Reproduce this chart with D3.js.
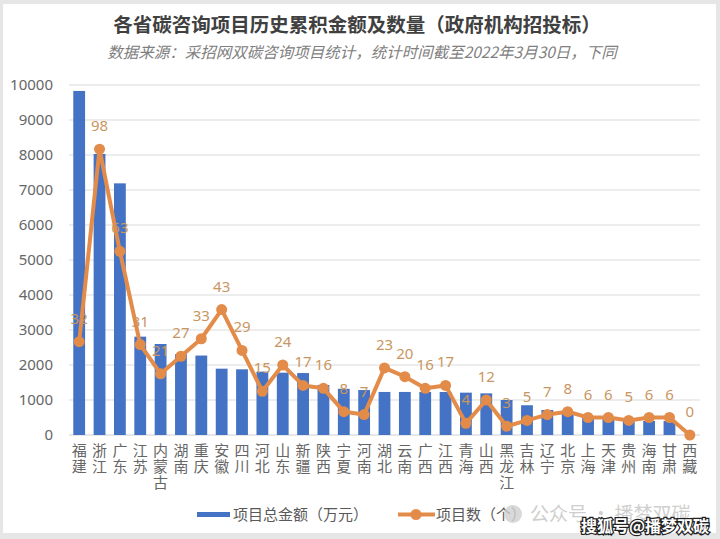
<!DOCTYPE html>
<html><head><meta charset="utf-8">
<script src="https://cdn.jsdelivr.net/npm/d3@7"></script>
<style>
body{margin:0;background:#fff;}
svg{display:block;font-family:"Noto Sans CJK SC","Noto Sans",sans-serif;}
.vt{writing-mode:vertical-rl;text-orientation:upright;}
</style></head>
<body>
<svg id="c" width="720" height="539"></svg>
<script>
const categories = ["福建","浙江","广东","江苏","内蒙古","湖南","重庆","安徽","四川","河北","山东","新疆","陕西","宁夏","河南","湖北","云南","广西","江西","青海","山西","黑龙江","吉林","辽宁","北京","上海","天津","贵州","海南","甘肃","西藏"];
const amounts = [9830,8030,7190,2810,2600,2310,2270,1895,1877,1810,1780,1770,1430,1320,1285,1230,1230,1230,1230,1210,1190,1000,850,715,680,520,500,430,400,400,0];
const counts = [32,98,63,31,21,27,33,43,29,15,24,17,16,8,7,23,20,16,17,4,12,3,5,7,8,6,6,5,6,6,0];
const yTicks = [0,1000,2000,3000,4000,5000,6000,7000,8000,9000,10000];
const title = "各省碳咨询项目历史累积金额及数量（政府机构招投标）";
const subtitle = "数据来源：采招网双碳咨询项目统计，统计时间截至2022年3月30日，下同";
const legendBar = "项目总金额（万元）";
const legendLine = "项目数（个）";

const svg = d3.select("#c");
// frame
svg.append("rect").attr("x",0).attr("y",0).attr("width",720).attr("height",539).attr("fill","#e6e6e6");
svg.append("rect").attr("x",3).attr("y",4).attr("width",713).attr("height",529).attr("fill","#fff");

const x = d3.scaleBand().domain(categories).range([69,700]).paddingInner(0.42).paddingOuter(0.21);
const y = d3.scaleLinear().domain([0,10000]).range([435,85]);
const y2 = d3.scaleLinear().domain([0,120]).range([435,85]);

// grid
svg.append("g").selectAll("line").data(yTicks).join("line")
  .attr("x1",69).attr("x2",700).attr("y1",d=>y(d)).attr("y2",d=>y(d))
  .attr("stroke",d=>d===0?"#cfcfcf":"#dcdcdc").attr("stroke-width",1.2);

// y axis
const yAxis = d3.axisLeft(y).tickValues(yTicks).tickFormat(d3.format("d")).tickSize(0).tickPadding(0);
const ga = svg.append("g").attr("transform","translate(53,0)").call(yAxis);
ga.select(".domain").remove();
ga.selectAll("text").attr("fill","#666").style("font-size","15px").style("font-family","'Noto Sans',sans-serif");

// bars
svg.append("g").selectAll("rect").data(categories).join("rect")
  .attr("x",d=>x(d)).attr("width",x.bandwidth())
  .attr("y",(d,i)=>y(amounts[i])).attr("height",(d,i)=>y(0)-y(amounts[i]))
  .attr("fill","#4472C4");

// line
const cx = d=>x(d)+x.bandwidth()/2;
const line = d3.line().x((d,i)=>cx(categories[i])).y(d=>y2(d));
svg.append("path").datum(counts).attr("d",line).attr("fill","none")
  .attr("stroke","#E38B49").attr("stroke-width",4).attr("stroke-linejoin","round");
svg.append("g").selectAll("circle").data(counts).join("circle")
  .attr("cx",(d,i)=>cx(categories[i])).attr("cy",d=>y2(d)).attr("r",5.5).attr("fill","#E38B49");
svg.append("g").selectAll("text").data(counts).join("text")
  .attr("x",(d,i)=>cx(categories[i])).attr("y",d=>y2(d)-22)
  .attr("text-anchor","middle").attr("dominant-baseline","middle")
  .attr("fill","#C9965F").style("font-size","15px").style("font-family","'Noto Sans',sans-serif")
  .text(d=>d);

// x labels (vertical)
svg.append("g").selectAll("text").data(categories).join("text")
  .attr("class","vt")
  .attr("x",d=>cx(d)).attr("y",443).attr("text-anchor","start")
  .attr("fill","#666").style("font-size","15px").style("letter-spacing","1px").text(d=>d);

// titles
svg.append("text").attr("x",357).attr("y",32).attr("text-anchor","middle")
  .attr("fill","#404040").style("font-size","19.5px").style("font-weight","bold").text(title);
svg.append("text").attr("x",362).attr("y",58).attr("text-anchor","middle")
  .attr("fill","#808080").style("font-size","15.5px").style("font-style","italic").text(subtitle);

// legend
const lg = svg.append("g");
lg.append("rect").attr("x",197).attr("y",512).attr("width",33).attr("height",5).attr("fill","#4472C4");
lg.append("text").attr("x",233).attr("y",520).attr("fill","#595959").style("font-size","15px").text(legendBar);
lg.append("line").attr("x1",398).attr("x2",435).attr("y1",514.5).attr("y2",514.5).attr("stroke","#E38B49").attr("stroke-width",4);
lg.append("circle").attr("cx",416).attr("cy",514.5).attr("r",5.5).attr("fill","#E38B49");
lg.append("text").attr("x",436).attr("y",520).attr("fill","#595959").style("font-size","15px").text(legendLine);

// watermarks
svg.append("circle").attr("cx",513).attr("cy",514).attr("r",9).attr("fill","#d0d0d0").attr("opacity",0.8);
svg.append("text").attr("x",530).attr("y",521).attr("fill","#cfcfcf").style("font-size","19px").text("公众号 · 播梦双碳");
svg.append("text").attr("x",581).attr("y",532).attr("fill","#fff").attr("stroke","#222").attr("stroke-width",2.5)
  .attr("paint-order","stroke").style("font-size","16px").style("font-weight","bold").text("搜狐号@播梦双碳");
</script>
</body></html>
